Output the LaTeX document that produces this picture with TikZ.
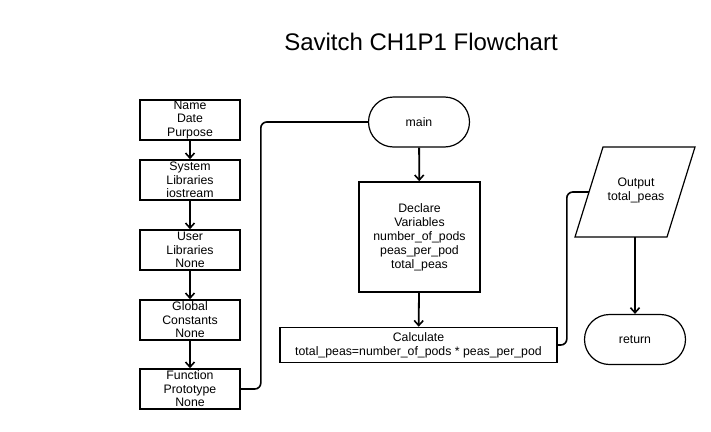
\documentclass[tikz,border=0pt]{standalone}
\usepackage{fontspec}
\setmainfont{Liberation Sans}
\usetikzlibrary{arrows.meta}
\begin{document}
\begin{tikzpicture}[x=1pt,y=-1pt,
  box/.style={draw, line width=1.6pt, rectangle, inner sep=0pt, align=center,
    font=\fontsize{12.3}{13.5}\selectfont},
  term/.style={draw, line width=1.2pt, rectangle, rounded corners=25pt, inner sep=0pt,
    minimum width=101pt, minimum height=50pt, font=\fontsize{12.3}{14}\selectfont},
  iotext/.style={inner sep=0pt, align=center, font=\fontsize{12.3}{14}\selectfont},
  ioshape/.style={draw, line width=1.2pt, line join=miter},
  arr/.style={line width=1.8pt, -{Straight Barb[length=5pt,width=9pt,line width=1.6pt]}},
  conn/.style={line width=1.6pt, rounded corners=6pt}]
\useasboundingbox[fill=white] (0,0) rectangle (711,431);
\node[font=\fontsize{24}{28}\selectfont] (title) at (421,42) {Savitch CH1P1 Flowchart};
% left column
\node[box, minimum width=100pt, minimum height=40pt] (hdr) at (190,120) {Name\\Date\\Purpose};
\node[box, minimum width=100pt, minimum height=40pt] (sys) at (190,180) {System\\Libraries\\iostream};
\node[box, minimum width=100pt, minimum height=40pt] (usr) at (190,250) {User\\Libraries\\None};
\node[box, minimum width=100pt, minimum height=40pt] (glob) at (190,320) {Global\\Constants\\None};
\node[box, minimum width=100pt, minimum height=40pt] (fn) at (190,389) {Function\\Prototype\\None};
\draw[arr] (hdr) -- (sys);
\draw[arr] (sys) -- (usr);
\draw[arr] (usr) -- (glob);
\draw[arr] (glob) -- (fn);
% main column
\node[term] (main) at (419,122) {main};
\node[box, minimum width=121pt, minimum height=110pt, font=\fontsize{12.3}{14}\selectfont] (decl) at (419.5,237)
  {Declare\\Variables\\number\_of\_pods\\peas\_per\_pod\\total\_peas};
\node[box, minimum width=277pt, minimum height=35pt, font=\fontsize{12.3}{14}\selectfont] (calc) at (418.5,345)
  {Calculate\\total\_peas=number\_of\_pods * peas\_per\_pod};
\draw[arr] (main) -- (decl);
\draw[arr] (decl) -- (calc);
\draw[conn] (fn.east) -- ++(20,0) |- (main.west);
% right column
\draw[ioshape] (603,147) -- (695,147) -- (667,237) -- (575,237) -- cycle;
\node[iotext] (out) at (636,190) {Output\\total\_peas};
\coordinate (outin) at (589,192);
\coordinate (outbot) at (635,237);
\node[term] (ret) at (635,339.5) {return};
\draw[conn] (calc.east) -- ++(9,0) |- (outin);
\draw[arr] (outbot) -- (ret);
\end{tikzpicture}
\end{document}
